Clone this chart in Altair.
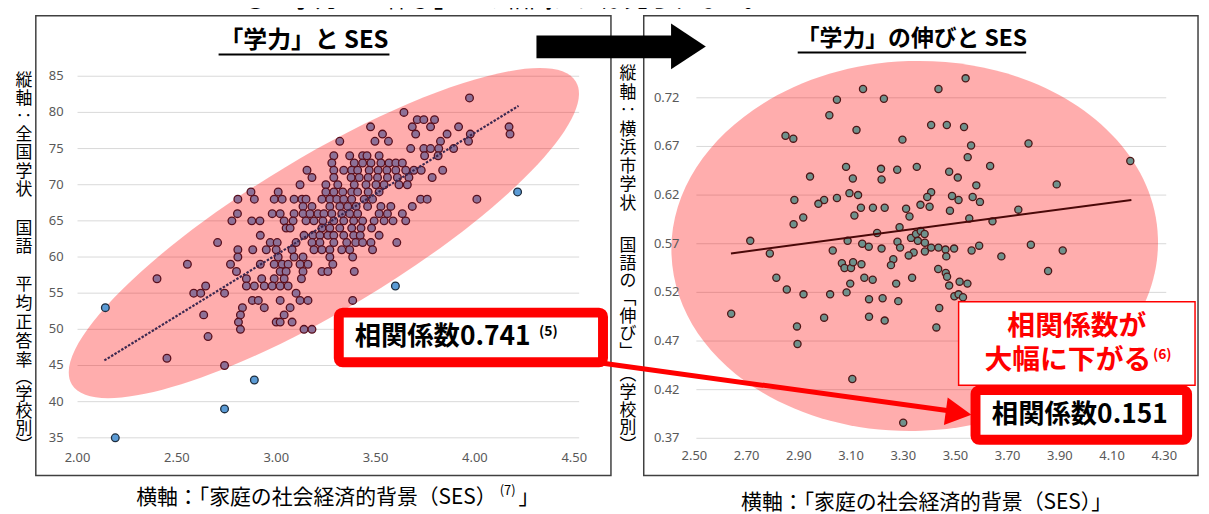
import altair as alt
import pandas as pd

OFF = 8.0


def P(v):
    """reference-page pixel -> chart pixel"""
    return v - OFF


FONT = "Noto Sans CJK JP"
TFONT = "Noto Sans"

# ---------------- data ----------------
# left panel: school average score (integer rows) vs SES
left_levels = [82, 80, 79, 78, 77, 76, 75, 74, 73, 72, 71, 70, 69, 68, 67, 66, 65, 64,
               63, 62, 61, 60, 59, 58, 57, 56, 55, 54, 53, 52, 51, 50, 49, 46, 45]
left_x_rows = [
    [3.973],
    [3.643],
    [3.71, 3.743, 3.797],
    [3.475, 3.685, 3.777, 3.918, 4.172],
    [3.535, 3.702, 3.86, 3.977, 4.177],
    [3.32, 3.497, 3.565, 3.827, 3.968],
    [3.677, 3.743, 3.777, 3.818, 3.893],
    [3.29, 3.37, 3.435, 3.457, 3.518, 3.747, 3.815],
    [3.28, 3.393, 3.435, 3.477, 3.527, 3.568, 3.602, 3.635],
    [3.155, 3.29, 3.34, 3.38, 3.41, 3.468, 3.513, 3.557, 3.602, 3.652, 3.693, 3.73, 3.838],
    [3.18, 3.29, 3.377, 3.418, 3.463, 3.51, 3.56, 3.61, 3.668, 3.785],
    [3.12, 3.25, 3.31, 3.393, 3.452, 3.502, 3.543, 3.618, 3.66],
    [2.873, 3.01, 3.25, 3.29, 3.335, 3.38, 3.41, 3.463, 3.518],
    [2.807, 2.89, 2.99, 3.03, 3.09, 3.13, 3.15, 3.23, 3.27, 3.305, 3.34, 3.38, 3.443, 3.485, 3.727, 3.76, 4.01],
    [3.135, 3.18, 3.27, 3.32, 3.36, 3.402, 3.46, 3.527, 3.577, 3.685],
    [2.805, 2.98, 3.02, 3.09, 3.135, 3.17, 3.21, 3.24, 3.28, 3.33, 3.37, 3.41, 3.518, 3.56, 3.635],
    [2.777, 2.877, 2.918, 3.04, 3.085, 3.15, 3.19, 3.235, 3.29, 3.34, 3.39, 3.435, 3.493, 3.543, 3.588, 3.652],
    [3.05, 3.07, 3.23, 3.27, 3.32, 3.38, 3.427, 3.48],
    [2.92, 3.14, 3.185, 3.22, 3.26, 3.29, 3.34, 3.39, 3.423, 3.518],
    [2.705, 2.97, 3.005, 3.10, 3.18, 3.22, 3.29, 3.355, 3.40, 3.435, 3.477, 3.607],
    [2.807, 2.882, 2.95, 3.00, 3.08, 3.19, 3.23, 3.27, 3.33, 3.37, 3.485],
    [2.807, 3.01, 3.09, 3.135, 3.27, 3.385],
    [2.553, 2.77, 2.92, 2.99, 3.03, 3.06, 3.12, 3.16, 3.285],
    [2.80, 3.02, 3.05, 3.135, 3.23, 3.26, 3.393],
    [2.40, 2.85, 2.927, 2.99, 3.04, 3.127],
    [2.645, 2.85, 2.89, 2.94, 2.98, 3.02, 3.06],
    [2.585, 2.62, 2.74, 3.10],
    [2.88, 2.91, 3.02, 3.12, 3.16, 3.385],
    [2.83, 2.94, 3.07],
    [2.635, 2.82, 3.04],
    [2.81, 3.00, 3.02, 3.08],
    [2.82, 3.14, 3.18],
    [2.657],
    [2.45],
    [2.74],
]
blue_x = [2.14, 2.19, 2.74, 2.89, 3.60, 4.215]
blue_y = [53, 35, 39, 43, 56, 69]
left_trend_x = [2.135, 4.22]
left_trend_y = [45.7, 80.9]

# right panel: growth vs SES
right_x = [3.539, 3.146, 3.435, 3.046, 3.226, 3.017, 3.407, 3.467, 3.533, 3.121,
           2.849, 2.879, 3.297, 3.780, 3.560, 3.547, 4.170, 3.633, 3.081, 3.215,
           3.277, 3.352, 3.476, 2.943, 3.107, 3.217, 3.509, 3.580, 3.888, 3.094,
           3.127, 3.407, 3.392, 3.487, 3.512, 3.566, 3.594, 2.883, 2.997, 2.975,
           3.046, 3.138, 3.184, 3.229, 3.311, 3.366, 3.401, 3.479, 3.741, 3.113,
           3.324, 2.917, 2.880, 3.553, 3.642, 3.286, 3.200, 2.714, 3.087, 3.143,
           3.168, 3.217, 3.278, 3.288, 3.330, 3.349, 3.367, 3.382, 3.356, 3.383,
           3.407, 3.435, 3.462, 3.495, 3.340, 3.321, 3.383, 3.465, 3.562, 3.591,
           3.789, 3.911, 3.676, 2.789, 3.030, 3.262, 3.253, 3.065, 3.075, 3.100,
           3.108, 3.140, 3.434, 3.463, 3.468, 3.855, 2.814, 3.151, 3.183, 3.334,
           3.097, 3.273, 3.516, 3.546, 3.476, 2.854, 2.918, 3.020, 3.083, 3.496,
           3.512, 3.529, 3.169, 3.221, 3.281, 3.438, 2.641, 2.997, 3.169, 3.229,
           2.893, 3.427, 2.895, 3.105, 3.300]
right_y = [0.740, 0.729, 0.729, 0.718, 0.719, 0.702, 0.692, 0.692, 0.690, 0.687,
           0.681, 0.678, 0.677, 0.673, 0.671, 0.659, 0.655, 0.650, 0.649, 0.647,
           0.646, 0.649, 0.644, 0.639, 0.637, 0.636, 0.638, 0.630, 0.631, 0.622,
           0.620, 0.623, 0.618, 0.619, 0.615, 0.618, 0.613, 0.615, 0.615, 0.611,
           0.617, 0.607, 0.607, 0.607, 0.606, 0.610, 0.608, 0.604, 0.605, 0.599,
           0.598, 0.597, 0.590, 0.596, 0.593, 0.587, 0.581, 0.573, 0.573, 0.570,
           0.567, 0.565, 0.572, 0.566, 0.576, 0.580, 0.583, 0.580, 0.573, 0.571,
           0.566, 0.566, 0.564, 0.565, 0.561, 0.558, 0.562, 0.557, 0.563, 0.568,
           0.569, 0.563, 0.557, 0.560, 0.563, 0.554, 0.548, 0.550, 0.545, 0.545,
           0.551, 0.549, 0.544, 0.540, 0.536, 0.542, 0.535, 0.535, 0.533, 0.535,
           0.529, 0.529, 0.531, 0.529, 0.527, 0.523, 0.518, 0.518, 0.520, 0.516,
           0.518, 0.515, 0.513, 0.514, 0.511, 0.504, 0.498, 0.494, 0.495, 0.491,
           0.485, 0.484, 0.467, 0.431, 0.386]
right_trend_x = [2.64, 4.174]
right_trend_y = [0.560, 0.615]

left_yticks = [35, 40, 45, 50, 55, 60, 65, 70, 75, 80, 85]
left_xticks = [2.0, 2.5, 3.0, 3.5, 4.0, 4.5]
right_yticks = [0.37, 0.42, 0.47, 0.52, 0.57, 0.62, 0.67, 0.72]
right_xticks = [2.5, 2.7, 2.9, 3.1, 3.3, 3.5, 3.7, 3.9, 4.1, 4.3]

left_ellipse_center = [3.24, 63.3]
right_ellipse_center = [3.344, 0.5677]

# vertical axis titles, written one character per line in groups
left_vtitle = ["縦軸‥全国学状", "国語", "平均正答率", "︵学校別︶"]
right_vtitle = ["縦軸‥横浜市学状", "国語の﹁伸び﹂", "︵学校別︶"]

# ---------------- tables ----------------
lx, ly = [], []
for lvl, xs in zip(left_levels, left_x_rows):
    for v in xs:
        lx.append(v)
        ly.append(lvl)
df_left = pd.DataFrame({"x": lx, "y": ly})
df_blue = pd.DataFrame({"x": blue_x, "y": blue_y})
df_right = pd.DataFrame({"x": right_x, "y": right_y})
df_ltrend = pd.DataFrame({"x": left_trend_x, "y": left_trend_y})
df_rtrend = pd.DataFrame({"x": right_trend_x, "y": right_trend_y})
df_lyt = pd.DataFrame({"v": left_yticks})
df_lxt = pd.DataFrame({"v": left_xticks})
df_ryt = pd.DataFrame({"v": right_yticks})
df_rxt = pd.DataFrame({"v": right_xticks})
df_lell = pd.DataFrame({"x": [left_ellipse_center[0]], "y": [left_ellipse_center[1]]})
df_rell = pd.DataFrame({"x": [right_ellipse_center[0]], "y": [right_ellipse_center[1]]})
ONE = pd.DataFrame({"k": [0]})

# ---------------- scales ----------------
LX = alt.Scale(domain=[2.0, 4.5], range=[P(78), P(578)], nice=False, zero=False)
LY = alt.Scale(domain=[35, 85], range=[P(439), P(75)], nice=False, zero=False)
RX = alt.Scale(domain=[2.5, 4.3], range=[P(699), P(1172)], nice=False, zero=False)
RY = alt.Scale(domain=[0.37, 0.72], range=[P(439.5), P(96.7)], nice=False, zero=False)


def xq(field, sc):
    return alt.X(field, type="quantitative", scale=sc, axis=None)


def yq(field, sc):
    return alt.Y(field, type="quantitative", scale=sc, axis=None)


def rect(x1, y1, x2, y2, **kw):
    return alt.Chart(ONE).mark_rect(**kw).encode(
        x=alt.value(P(x1)), x2=alt.value(P(x2)), y=alt.value(P(y1)), y2=alt.value(P(y2)))


def rule(x1, y1, x2, y2, **kw):
    return alt.Chart(ONE).mark_rule(**kw).encode(
        x=alt.value(P(x1)), x2=alt.value(P(x2)), y=alt.value(P(y1)), y2=alt.value(P(y2)))


def label(txt, x, y, **kw):
    props = dict(font=FONT, color="#000000")
    props.update(kw)
    return alt.Chart(ONE).mark_text(**props).encode(
        x=alt.value(P(x)), y=alt.value(P(y)), text=alt.value(txt))


def vlabel(txt, x, top, lh):
    return label(list(txt), x, top, fontSize=17, lineHeight=lh, align="center", baseline="top")


layers = []

# frames
layers.append(rect(36, 14, 615, 477, fill="white", fillOpacity=0, stroke="#404040", strokeWidth=1.5))
layers.append(rect(648, 14, 1206, 477, fill="white", fillOpacity=0, stroke="#404040", strokeWidth=1.5))

# gridlines
layers.append(alt.Chart(df_lyt).mark_rule(color="#d9d9d9", strokeWidth=1).encode(
    y=yq("v", LY), x=alt.value(P(78)), x2=alt.value(P(583))))
layers.append(alt.Chart(df_ryt).mark_rule(color="#d9d9d9", strokeWidth=1).encode(
    y=yq("v", RY), x=alt.value(P(701)), x2=alt.value(P(1174))))

# ellipses
ELL_L = "M -1 0 A 1 0.26 0 1 1 1 0 A 1 0.26 0 1 1 -1 0 Z"
ELL_R = "M -1 0 A 1 0.76 0 1 1 1 0 A 1 0.76 0 1 1 -1 0 Z"
layers.append(alt.Chart(df_lell).mark_point(
    shape=ELL_L, size=592 * 592, filled=True, color="#ff0000", opacity=0.32, angle=329,
    strokeWidth=0).encode(x=xq("x", LX), y=yq("y", LY)))
layers.append(alt.Chart(df_rell).mark_point(
    shape=ELL_R, size=490 * 490, filled=True, color="#ff0000", opacity=0.32, angle=358,
    strokeWidth=0).encode(x=xq("x", RX), y=yq("y", RY)))

# scatter points
layers.append(alt.Chart(df_left).mark_circle(
    size=60, color="#8d7097", opacity=1, stroke="#5a0f1c", strokeWidth=1.3).encode(
    x=xq("x", LX), y=yq("y", LY)))
layers.append(alt.Chart(df_blue).mark_circle(
    size=60, color="#5b9bd5", opacity=1, stroke="#1f2d3d", strokeWidth=1.3).encode(
    x=xq("x", LX), y=yq("y", LY)))
layers.append(alt.Chart(df_right).mark_circle(
    size=52, color="#6e918c", opacity=1, stroke="#4e1616", strokeWidth=1.3).encode(
    x=xq("x", RX), y=yq("y", RY)))

# trend lines
layers.append(alt.Chart(df_ltrend).mark_line(
    color="#3c2850", strokeWidth=2.2, strokeDash=[2.5, 1.5]).encode(
    x=xq("x", LX), y=yq("y", LY)))
layers.append(alt.Chart(df_rtrend).mark_line(
    color="#4a0808", strokeWidth=2).encode(x=xq("x", RX), y=yq("y", RY)))

# tick labels
tick = dict(font=TFONT, fontSize=13, color="#595959")
layers.append(alt.Chart(df_lyt).mark_text(align="right", baseline="middle", **tick).encode(
    y=yq("v", LY), x=alt.value(P(64)), text=alt.Text("v:Q", format="d")))
layers.append(alt.Chart(df_lxt).mark_text(align="center", baseline="middle", **tick).encode(
    x=xq("v", LX), y=alt.value(P(459)), text=alt.Text("v:Q", format=".2f")))
layers.append(alt.Chart(df_ryt).mark_text(align="right", baseline="middle", **tick).encode(
    y=yq("v", RY), x=alt.value(P(684)), text=alt.Text("v:Q", format=".2f")))
layers.append(alt.Chart(df_rxt).mark_text(align="center", baseline="middle", **tick).encode(
    x=xq("v", RX), y=alt.value(P(457)), text=alt.Text("v:Q", format=".2f")))

# vertical axis titles
layers.append(vlabel(left_vtitle[0], 24, 72, 18.2))
layers.append(vlabel(left_vtitle[1], 24, 221, 18.0))
layers.append(vlabel(left_vtitle[2], 24, 277, 19.2))
layers.append(vlabel(left_vtitle[3], 24, 371, 17.0))
layers.append(vlabel(right_vtitle[0], 632, 65, 18.6))
layers.append(vlabel(right_vtitle[1], 632, 238, 17.8))
layers.append(vlabel(right_vtitle[2], 632, 368, 17.8))

# horizontal axis titles
layers.append(label("横軸：「家庭の社会経済的背景（SES）", 137, 500, fontSize=21, align="left", baseline="middle"))
layers.append(label("(7)", 511, 493, fontSize=13, align="center", baseline="middle"))
layers.append(label("」", 522, 500, fontSize=21, align="left", baseline="middle"))
layers.append(label("横軸：「家庭の社会経済的背景（SES）」", 746, 505, fontSize=21, align="left", baseline="middle"))

# top sentence (mostly cut off by the page edge)
layers.append(label("〇　学力と「伸び」との相関はほぼ見られない。", 245, 10, fontSize=24, align="left", baseline="bottom"))

# panel titles
layers.append(label("「学力」と SES", 306, 40, fontSize=24, fontWeight="bold", align="center", baseline="middle"))
layers.append(rule(220, 53, 392, 53, color="#000000", strokeWidth=2))
layers.append(label("「学力」の伸びと SES", 918, 38, fontSize=23, fontWeight="bold", align="center", baseline="middle"))
layers.append(rule(803, 51, 1033, 51, color="#000000", strokeWidth=2))

# black arrow
layers.append(rect(540, 34, 678, 57, fill="#000000"))
layers.append(alt.Chart(ONE).mark_point(
    shape="M -0.76 -1 L 0.76 0 L -0.76 1 Z", size=46 * 46, filled=True, color="#000000",
    opacity=1).encode(x=alt.value(P(693)), y=alt.value(P(45))))

# red connector arrow
layers.append(rule(607, 364, 957, 412, color="#ff0000", strokeWidth=5))
layers.append(alt.Chart(ONE).mark_point(
    shape="M -0.93 -1 L 0.93 0 L -0.93 1 Z", size=28 * 28, filled=True, color="#ff0000",
    opacity=1, angle=7.8).encode(x=alt.value(P(965)), y=alt.value(P(414))))

# boxes
layers.append(rect(341, 313, 607, 363, fill="white", stroke="#ff0000", strokeWidth=10, cornerRadius=4))
layers.append(label("相関係数0.741", 357, 338, fontSize=26.5, fontWeight="bold", align="left", baseline="middle"))
layers.append(label("(5)", 552, 333, fontSize=14, fontWeight="bold", align="center", baseline="middle"))

layers.append(rect(965, 302, 1203, 386, fill="white", stroke="#ff0000", strokeWidth=1.5))
layers.append(label("相関係数が", 1084, 327, fontSize=28, fontWeight="bold", color="#ff0000", align="center", baseline="middle"))
layers.append(label("大幅に下がる", 991, 362, fontSize=28, fontWeight="bold", color="#ff0000", align="left", baseline="middle"))
layers.append(label("(6)", 1170, 356, fontSize=14, fontWeight="bold", color="#ff0000", align="center", baseline="middle"))

layers.append(rect(982, 391, 1195, 441, fill="white", stroke="#ff0000", strokeWidth=10, cornerRadius=4))
layers.append(label("相関係数0.151", 1087, 416, fontSize=26.5, fontWeight="bold", align="center", baseline="middle"))

chart = alt.layer(*layers).resolve_scale(x="independent", y="independent").properties(
    width=1201, height=506, padding=0, autosize=alt.AutoSizeParams(type="none"),
    background="white",
).configure_view(stroke=None)

chart.save("out.html", embed_options={"renderer": "svg", "actions": False})
